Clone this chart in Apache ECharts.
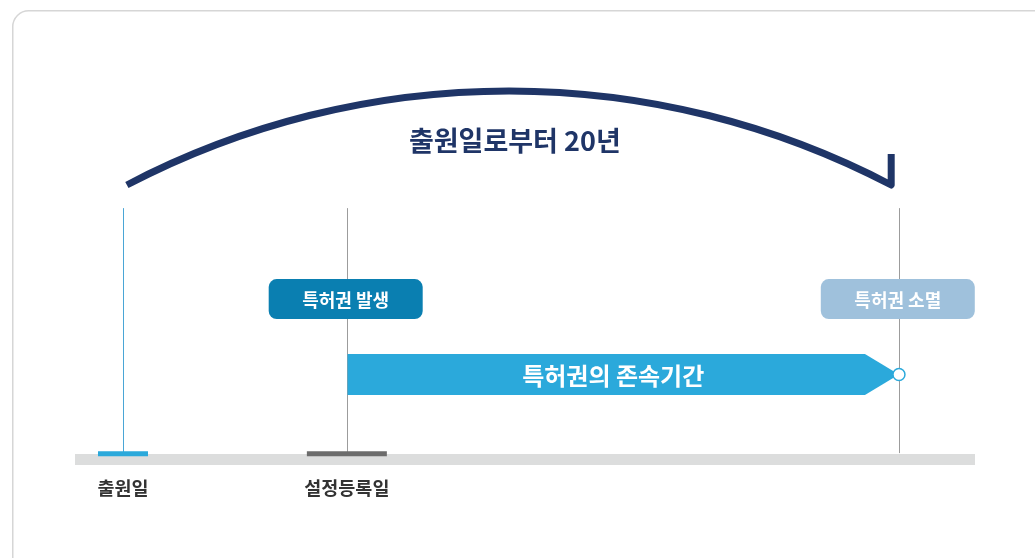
<!DOCTYPE html>
<html>
<head>
<meta charset="utf-8">
<script src="https://cdn.jsdelivr.net/npm/echarts@6/dist/echarts.min.js"></script>
<style>
html,body{margin:0;padding:0;background:#fff;}
#c{width:1035px;height:558px;}
</style>
</head>
<body>
<div id="c"></div>
<script>
// ---- data (timeline in years from filing date) ----
const titleText = '출원일로부터 20년';
const bandText = '특허권의 존속기간';
const milestoneNames = ['출원일', '설정등록일'];
const milestoneYears = [0, 5.77];
const expiryYear = 20;
const eventLabels = ['특허권 발생', '특허권 소멸'];
const eventYears = [5.74, 19.97];
const guideYears = [0, 5.77, 20];
const arcYears = [0.1, 9.9, 19.8];   // start, peak, end of the 20-year arc

// vertical levels (0 = bottom, 100 = top)
const LV = {
  arcEnd: 66.85, arcPeak: 83.7, hookTop: 72.4, title: 74.7,
  guideTop: 62.7, guideBottom: 18.8,
  event: 46.4, band: 32.9, base: 17.65, marker: 18.7, label: 12.5
};

const FONT = '"Noto Sans CJK KR", "Noto Sans", sans-serif';
const NAVY = '#1f3567';
const BLUE = '#2ba9db';

const chart = echarts.init(document.getElementById('c'), null, {renderer: 'canvas'});

const option = {
  animation: false,
  backgroundColor: '#fff',
  graphic: [{
    type: 'rect', left: 12, top: 10, z: -10,
    shape: {width: 1050, height: 570, r: 16},
    style: {fill: '#fff', stroke: '#d6d6d6', lineWidth: 1.5}
  }],
  grid: {left: 75, right: 60, top: 0, bottom: 0},
  xAxis: {type: 'value', min: -1.237, max: 21.96, show: false},
  yAxis: {type: 'value', min: 0, max: 100, show: false},
  series: [
    // baseline
    {
      type: 'custom', z: 1,
      data: [[-1.237, 21.96, LV.base]],
      renderItem: function (p, api) {
        const a = api.coord([api.value(0), api.value(2)]);
        const b = api.coord([api.value(1), api.value(2)]);
        return {type: 'rect', shape: {x: a[0], y: a[1] - 5.5, width: b[0] - a[0], height: 11},
          style: {fill: '#dcdddd'}};
      }
    },
    // guide lines
    {
      type: 'custom', z: 2,
      data: guideYears.map((y, i) => [y, LV.guideTop, LV.guideBottom, i]),
      renderItem: function (p, api) {
        const a = api.coord([api.value(0), api.value(1)]);
        const b = api.coord([api.value(0), api.value(2)]);
        const i = api.value(3);
        const x = Math.round(a[0]) + 0.5;
        return {type: 'line', shape: {x1: x, y1: a[1], x2: x, y2: b[1]},
          style: {stroke: i === 0 ? '#4aa6d6' : '#9c9c9c', lineWidth: 1}};
      }
    },
    // milestone markers on the baseline + labels
    {
      type: 'custom', z: 3,
      data: milestoneYears.map((y, i) => [y, LV.marker, LV.label, i]),
      renderItem: function (p, api) {
        const i = api.value(3);
        const a = api.coord([api.value(0), api.value(1)]);
        const t = api.coord([api.value(0), api.value(2)]);
        const w = i === 0 ? 50 : 80;
        return {type: 'group', children: [
          {type: 'rect', shape: {x: a[0] - w / 2, y: a[1] - 2.5, width: w, height: 5},
            style: {fill: i === 0 ? BLUE : '#6c6c6c'}},
          {type: 'text', x: t[0], y: t[1],
            style: {text: milestoneNames[i], fill: '#333', font: 'bold 18.5px ' + FONT,
              align: 'center', verticalAlign: 'middle'}}
        ]};
      }
    },
    // event boxes
    {
      type: 'custom', z: 4,
      data: eventYears.map((y, i) => [y, LV.event, i]),
      renderItem: function (p, api) {
        const i = api.value(2);
        const c = api.coord([api.value(0), api.value(1)]);
        return {type: 'group', children: [
          {type: 'rect', shape: {x: c[0] - 77, y: c[1] - 20, width: 154, height: 40, r: 8},
            style: {fill: i === 0 ? '#0a7fb1' : '#9fc1dc'}},
          {type: 'text', x: c[0], y: c[1] + 1,
            style: {text: eventLabels[i], fill: '#fff', font: 'bold 18px ' + FONT,
              align: 'center', verticalAlign: 'middle'}}
        ]};
      }
    },
    // duration band arrow
    {
      type: 'custom', z: 5,
      data: [[milestoneYears[1], expiryYear, LV.band]],
      renderItem: function (p, api) {
        const a = api.coord([api.value(0), api.value(2)]);
        const b = api.coord([api.value(1), api.value(2)]);
        const h = 20.5, tip = 34;
        const x0 = Math.round(a[0]) + 0.5;
        return {type: 'group', children: [
          {type: 'polygon', shape: {points: [
            [x0, a[1] - h], [b[0] - tip, a[1] - h], [b[0], b[1]], [b[0] - tip, a[1] + h], [x0, a[1] + h]]},
            style: {fill: BLUE}},
          {type: 'circle', shape: {cx: b[0], cy: b[1], r: 6},
            style: {fill: '#fff', stroke: BLUE, lineWidth: 1.5}},
          {type: 'text', x: (x0 + b[0]) / 2 - 10, y: a[1] + 1,
            style: {text: bandText, fill: '#fff', font: 'bold 24px ' + FONT,
              align: 'center', verticalAlign: 'middle'}}
        ]};
      }
    },
    // 20-year arc + title
    {
      type: 'custom', z: 6,
      data: [[arcYears[0], arcYears[1], arcYears[2]]],
      renderItem: function (p, api) {
        const p0 = api.coord([api.value(0), LV.arcEnd]);
        const p1 = api.coord([api.value(1), LV.arcPeak]);
        const p2 = api.coord([api.value(2), LV.arcEnd]);
        const hook = api.coord([api.value(2), LV.hookTop]);
        // circle through three points
        const ax = p0[0], ay = p0[1], bx = p1[0], by = p1[1], cx = p2[0], cy = p2[1];
        const d = 2 * (ax * (by - cy) + bx * (cy - ay) + cx * (ay - by));
        const ux = ((ax * ax + ay * ay) * (by - cy) + (bx * bx + by * by) * (cy - ay) + (cx * cx + cy * cy) * (ay - by)) / d;
        const uy = ((ax * ax + ay * ay) * (cx - bx) + (bx * bx + by * by) * (ax - cx) + (cx * cx + cy * cy) * (bx - ax)) / d;
        const r = Math.hypot(ax - ux, ay - uy);
        const path = 'M' + ax + ' ' + ay + ' A' + r + ' ' + r + ' 0 0 1 ' + cx + ' ' + cy +
          ' L' + cx + ' ' + hook[1];
        const t = api.coord([10.1, LV.title]);
        return {type: 'group', children: [
          {type: 'path', shape: {pathData: path},
            style: {fill: null, stroke: NAVY, lineWidth: 7, lineJoin: 'round', lineCap: 'butt'}},
          {type: 'text', x: t[0], y: t[1],
            style: {text: titleText, fill: NAVY, font: 'bold 27px ' + FONT,
              align: 'center', verticalAlign: 'middle'}}
        ]};
      }
    }
  ]
};
chart.setOption(option);
</script>
</body>
</html>
